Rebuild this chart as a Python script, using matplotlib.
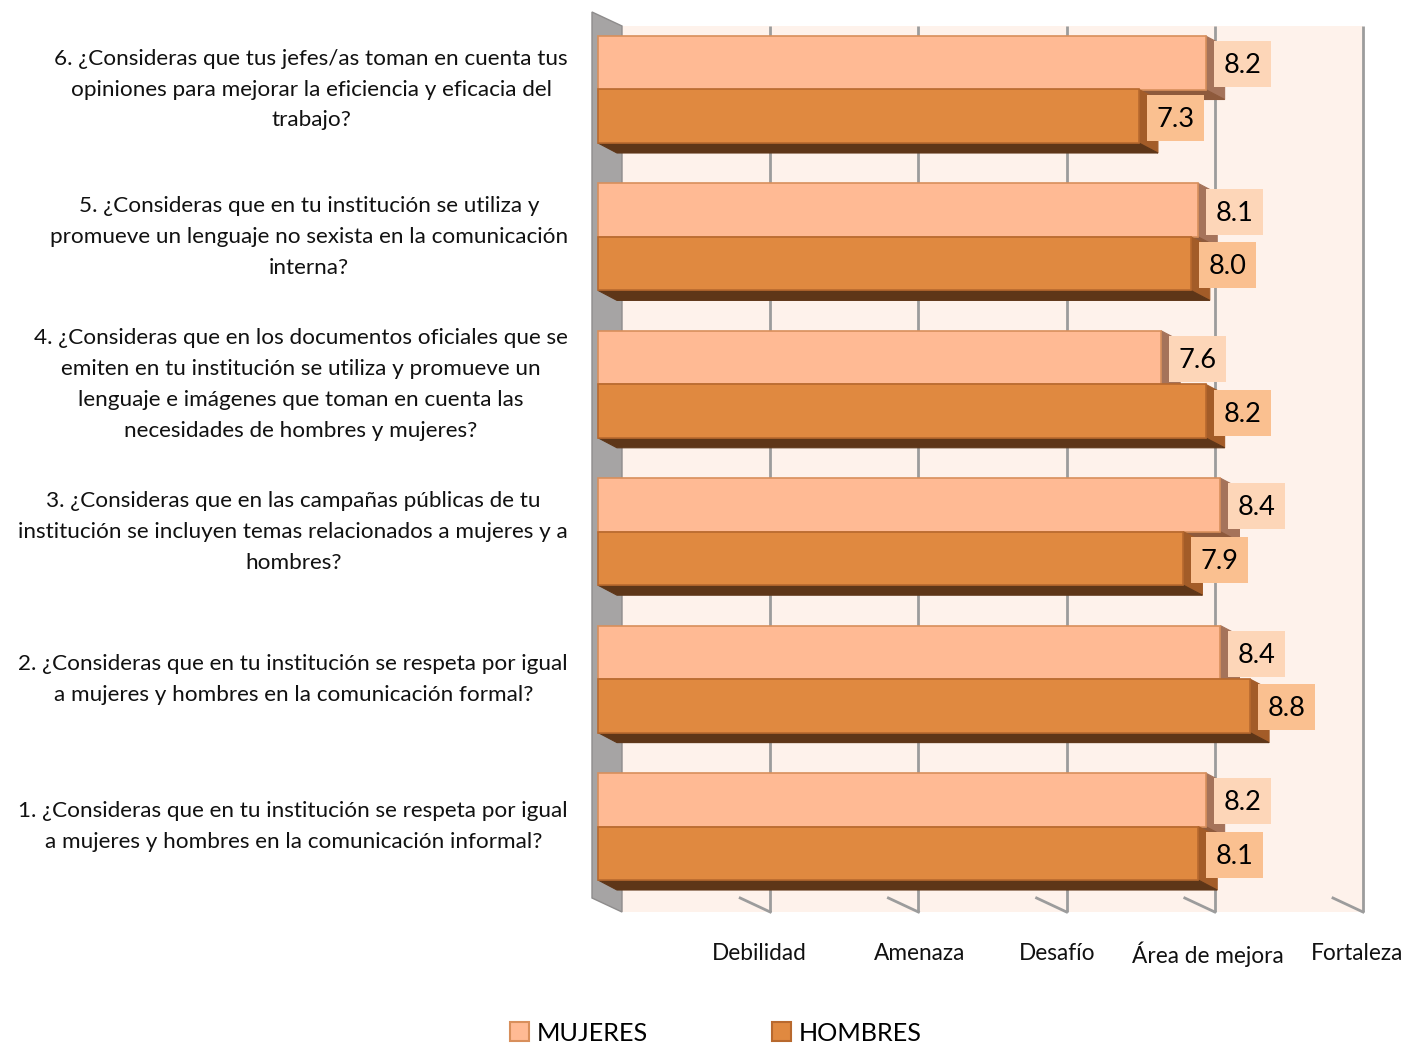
import matplotlib
matplotlib.use("Agg")
import matplotlib.pyplot as plt
from matplotlib.patches import Polygon, Rectangle, Patch

plt.rcParams['font.family'] = ['Lato', 'DejaVu Sans']

# ---- data -------------------------------------------------------------
preguntas = [
    "1. ¿Consideras que en tu institución se respeta por igual\na mujeres y hombres en la comunicación informal?",
    "2. ¿Consideras que en tu institución se respeta por igual\na mujeres y hombres en la comunicación formal?",
    "3. ¿Consideras que en las campañas públicas de tu\ninstitución se incluyen temas relacionados a mujeres y a\nhombres?",
    "4. ¿Consideras que en los documentos oficiales que se\nemiten en tu institución se utiliza y promueve un\nlenguaje e imágenes que toman en cuenta las\nnecesidades de hombres y mujeres?",
    "5. ¿Consideras que en tu institución se utiliza y\npromueve un lenguaje no sexista en la comunicación\ninterna?",
    "6. ¿Consideras que tus jefes/as toman en cuenta tus\nopiniones para mejorar la eficiencia y eficacia del\ntrabajo?",
]
mujeres = [8.2, 8.4, 8.4, 7.6, 8.1, 8.2]
hombres = [8.1, 8.8, 7.9, 8.2, 8.0, 7.3]
escala_valores = [2, 4, 6, 8, 10]
escala_etiquetas = ["Debilidad", "Amenaza", "Desafío", "Área de mejora", "Fortaleza"]
series = ["MUJERES", "HOMBRES"]

# ---- styling ----------------------------------------------------------
col_front = {"MUJERES": "#FFBA94", "HOMBRES": "#E08940"}
col_edge = {"MUJERES": "#D88F5C", "HOMBRES": "#B8692E"}
col_side = {"MUJERES": "#A5735A", "HOMBRES": "#A35C28"}
col_bottom = {"MUJERES": "#8E5A3C", "HOMBRES": "#5E3618"}
col_box = {"MUJERES": "#FDD6B8", "HOMBRES": "#FAC090"}
wall_col = "#FEF2EB"
side_wall_col = "#A6A4A4"
grid_col = "#9C9C9C"

W, H, DPI = 1418, 1044, 100
fig = plt.figure(figsize=(W / DPI, H / DPI), dpi=DPI)
ax = fig.add_axes([0, 0, 1, 1])
ax.set_axis_off()

# layout: the axes spans the whole figure; value 0 of the bar fronts sits at
# x0 pixels, and the group centres are spaced by gy pixels
x0, ux = 598.0, 74.1            # pixel of value 0, pixels per unit
y_top_center, gy = 89.5, 147.4  # pixel of the top group centre, spacing
n = len(preguntas)
ax.set_xlim(-x0 / ux, (W - x0) / ux)
ax.set_ylim((n - 1) - (H - y_top_center) / gy, (n - 1) + y_top_center / gy)


def px_x(p):
    return p / ux


def px_y(p):
    return p / gy


# depth offsets (pixels): wall front / back planes and bar depth
wf_dx, wf_dy = -6, 3      # wall front relative to bar front (up = +)
wb_dx, wb_dy = 24, -11    # wall back relative to bar front
bd_dx, bd_dy = 19, -10    # bar depth

wall_top_back = (n - 1) + px_y(y_top_center - 26)
wall_bot_back = -px_y(912 - (y_top_center + (n - 1) * gy))
wall_top_front = wall_top_back + px_y(wf_dy - wb_dy)
wall_bot_front = wall_bot_back + px_y(wf_dy - wb_dy)
xmax = escala_valores[-1]

# back wall
ax.add_patch(Rectangle((px_x(wb_dx), wall_bot_back), xmax, wall_top_back - wall_bot_back,
                       facecolor=wall_col, edgecolor="none", zorder=0))
# gridlines on the back wall and floor ticks
for g in escala_valores:
    ax.plot([g + px_x(wb_dx)] * 2, [wall_bot_back, wall_top_back], color=grid_col, lw=2, zorder=1,
            solid_capstyle="butt")
    ax.plot([g + px_x(wf_dx), g + px_x(wb_dx)], [wall_bot_front, wall_bot_back],
            color=grid_col, lw=2, zorder=1)
# left side wall
ax.add_patch(Polygon([(px_x(wf_dx), wall_top_front), (px_x(wb_dx), wall_top_back),
                      (px_x(wb_dx), wall_bot_back), (px_x(wf_dx), wall_bot_front)],
                     closed=True, facecolor=side_wall_col, edgecolor="#8E8C8C", lw=1, zorder=1.5))

# bars
h = px_y(53.5)
ddx, ddy = px_x(bd_dx), px_y(bd_dy)
for k, (name, vals) in enumerate(zip(series, [mujeres, hombres])):
    ys = [i + h / 2 if k == 0 else i - h / 2 for i in range(n)]
    z = 3 + 2 * k
    for y, v in zip(ys, vals):
        top, bot = y + h / 2, y - h / 2
        ax.add_patch(Polygon([(v, top), (v + ddx, top + ddy), (v + ddx, bot + ddy), (v, bot)],
                             closed=True, facecolor=col_side[name], edgecolor=col_side[name],
                             lw=0.8, zorder=z))
        ax.add_patch(Polygon([(0, bot), (v, bot), (v + ddx, bot + ddy), (ddx, bot + ddy)],
                             closed=True, facecolor=col_bottom[name], edgecolor=col_bottom[name],
                             lw=0.8, zorder=z))
    ax.barh(ys, vals, height=h, left=0, color=col_front[name], edgecolor=col_edge[name],
            linewidth=1.2, zorder=z + 1)
    # value boxes
    bw, bh = px_x(57), px_y(46)
    for y, v in zip(ys, vals):
        bx = v + px_x(8)
        yc = y - px_y(1.5)
        ax.add_patch(Rectangle((bx, yc - bh / 2), bw, bh, facecolor=col_box[name],
                               edgecolor="none", zorder=10))
        ax.text(bx + bw / 2, yc - px_y(1.5), f"{v:.1f}", ha="center", va="center",
                fontsize=19.5, color="black", zorder=11)

# question labels
for i, q in enumerate(preguntas):
    ax.text(-px_x(x0 - 568), i, q, ha="right", va="center", multialignment="center",
            fontsize=16.2, linespacing=1.68, color="#111111")

# category labels under the chart
y_lab = -px_y(954 - (y_top_center + (n - 1) * gy))
lab_nudge = [-11, 1, -9, -7, -6]   # small horizontal nudges in pixels
for g, lab, d in zip(escala_valores, escala_etiquetas, lab_nudge):
    ax.text(g + px_x(wb_dx + d), y_lab, lab, ha="center", va="center", fontsize=16.3,
            color="#111111")

# legend
handles = [Patch(facecolor=col_front[s], edgecolor=col_edge[s], linewidth=1.5, label=s)
           for s in series]
fig.legend(handles=handles, loc="center", bbox_to_anchor=(0.505, 0.0105), ncol=2,
           frameon=False, fontsize=18.2, handlelength=0.75, handleheight=0.75,
           handletextpad=0.3, columnspacing=4.9, borderaxespad=0)

fig.savefig("out.png", dpi=DPI)
